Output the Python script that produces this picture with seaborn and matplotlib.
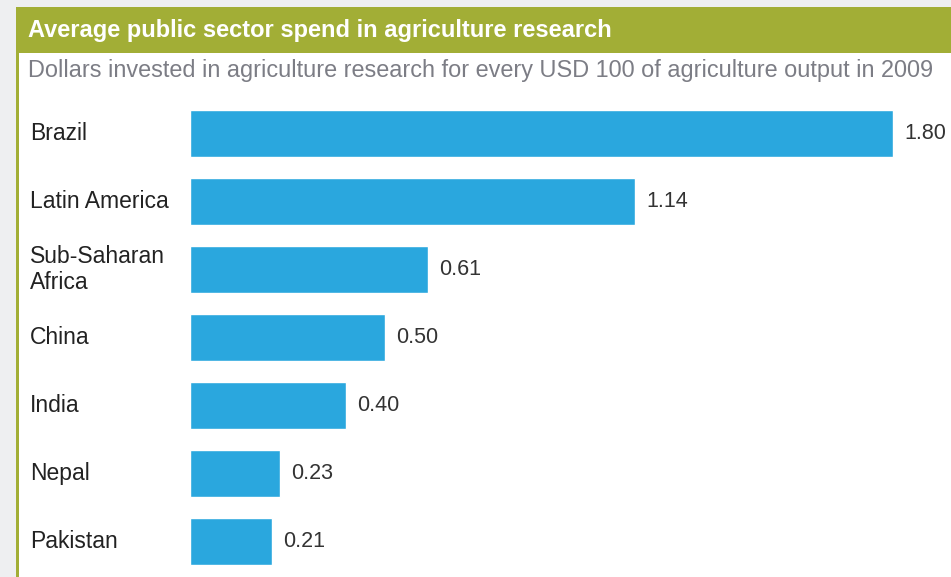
import matplotlib
matplotlib.use("Agg")
import matplotlib.pyplot as plt
import matplotlib.patches as mpatches
import matplotlib.transforms as mtransforms
import seaborn as sns
import pandas as pd

# Data
regions = ["Brazil", "Latin America", "Sub-Saharan\nAfrica", "China", "India", "Nepal", "Pakistan"]
spend = [1.80, 1.14, 0.61, 0.50, 0.40, 0.23, 0.21]

title = "Average public sector spend in agriculture research"
subtitle = "Dollars invested in agriculture research for every USD 100 of agriculture output in 2009"

df = pd.DataFrame({"region": regions, "spend": spend})

sns.set_theme(style="white")
plt.rcParams["font.family"] = ["Liberation Sans", "DejaVu Sans"]

W, H = 951, 577
fig = plt.figure(figsize=(W / 100, H / 100), dpi=100)
fig.patch.set_facecolor("#eeeff1")

def fx(px):
    return px / W

def fy(px):
    return 1 - px / H

# White panel with olive header band and left border
fig.add_artist(mpatches.Rectangle((fx(16), 0), 1 - fx(16), fy(7), transform=fig.transFigure,
                                  facecolor="white", edgecolor="none", zorder=0))
fig.add_artist(mpatches.Rectangle((fx(16), fy(53)), 1 - fx(16), fy(7) - fy(53), transform=fig.transFigure,
                                  facecolor="#a2ae36", edgecolor="none", zorder=1))
fig.add_artist(mpatches.Rectangle((fx(16), 0), fx(3), fy(7), transform=fig.transFigure,
                                  facecolor="#a2ae36", edgecolor="none", zorder=1))

fig.text(fx(28), fy(36.5), title, color="white", fontsize=17, fontweight="bold",
         va="baseline", ha="left")
fig.text(fx(28), fy(77), subtitle, color="#7c7d85", fontsize=16.9, va="baseline", ha="left")

# Bar chart axes
left_px, top_px, bottom_px = 190, 99.5, 575.5
ax = fig.add_axes([fx(left_px), fy(bottom_px), 1 - fx(left_px), (bottom_px - top_px) / H])
ax.patch.set_alpha(0)
sns.barplot(data=df, y="region", x="spend", orient="h", color="#2aa7de",
            saturation=1, width=0.68, ax=ax)
ax.set_xlim(0, (W - left_px) / 390.6)
ax.set_ylim(len(regions) - 0.5, -0.5)
for s in ax.spines.values():
    s.set_visible(False)
ax.set_xticks([])
ax.set_xlabel("")
ax.set_ylabel("")
ax.set_yticks([])

ax.bar_label(ax.containers[0], labels=[f"{v:.2f}" for v in spend], padding=8,
             fontsize=15.5, color="#333333")

trans = mtransforms.blended_transform_factory(fig.transFigure, ax.transData)
for i, r in enumerate(regions):
    ax.text(fx(30), i, r, transform=trans, ha="left", va="center", fontsize=16.5,
            color="#222222", linespacing=1.2)

fig.savefig("out.png", dpi=100, facecolor=fig.get_facecolor())
